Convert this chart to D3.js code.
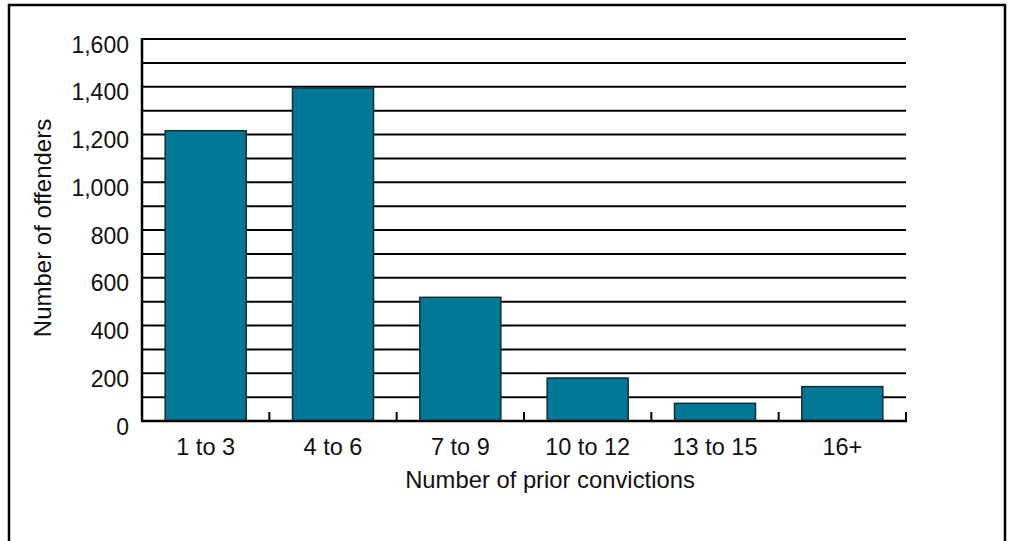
<!DOCTYPE html>
<html>
<head>
<meta charset="utf-8">
<script src="https://cdn.jsdelivr.net/npm/d3@7"></script>
<style>
  body { margin: 0; background: #fff; }
  text { font-family: "Liberation Sans", Arial, sans-serif; fill: #111; }
</style>
</head>
<body>
<script>
// data
const categories = ["1 to 3", "4 to 6", "7 to 9", "10 to 12", "13 to 15", "16+"];
const offenders = [1216, 1395, 518, 180, 74, 144];
const yTicks = [0, 200, 400, 600, 800, 1000, 1200, 1400, 1600];
const gridValues = d3.range(100, 1700, 100);

const width = 1010, height = 541;
const plotLeft = 142, plotRight = 906, plotTop = 39, plotBottom = 421;

const svg = d3.select("body").append("svg")
  .attr("width", width)
  .attr("height", height);

// outer frame (bottom edge runs off the picture)
svg.append("rect")
  .attr("x", 9).attr("y", 5)
  .attr("width", 996).attr("height", 560)
  .style("fill", "none")
  .style("stroke", "#000")
  .style("stroke-width", 2.5);

const x = d3.scaleBand()
  .domain(categories)
  .range([plotLeft, plotRight])
  .paddingInner(0.364)
  .paddingOuter(0.182);

const xEdges = d3.scaleBand().domain(categories).range([plotLeft, plotRight]);

const y = d3.scaleLinear().domain([0, 1600]).range([plotBottom, plotTop]);

// horizontal gridlines every 100
svg.append("g").selectAll("line")
  .data(gridValues)
  .join("line")
  .attr("x1", plotLeft).attr("x2", plotRight)
  .attr("y1", d => y(d)).attr("y2", d => y(d))
  .style("stroke", "#000")
  .style("stroke-width", 2);

// bars
svg.append("g").selectAll("rect")
  .data(offenders)
  .join("rect")
  .attr("x", (d, i) => x(categories[i]))
  .attr("y", d => y(d))
  .attr("width", x.bandwidth())
  .attr("height", d => y(0) - y(d))
  .style("fill", "#007896")
  .style("stroke", "#1b2a30")
  .style("stroke-width", 1.5);

// y axis line
svg.append("line")
  .attr("x1", plotLeft).attr("x2", plotLeft)
  .attr("y1", plotTop - 1).attr("y2", plotBottom)
  .style("stroke", "#000").style("stroke-width", 2.5);

// x axis line
svg.append("line")
  .attr("x1", plotLeft - 1).attr("x2", plotRight + 1)
  .attr("y1", plotBottom).attr("y2", plotBottom)
  .style("stroke", "#000").style("stroke-width", 2.5);

// category boundary ticks
svg.append("g").selectAll("line")
  .data(categories)
  .join("line")
  .attr("x1", d => xEdges(d) + xEdges.bandwidth())
  .attr("x2", d => xEdges(d) + xEdges.bandwidth())
  .attr("y1", plotBottom).attr("y2", plotBottom - 9)
  .style("stroke", "#000").style("stroke-width", 2);

// y tick labels
const fmt = d3.format(",");
svg.append("g").selectAll("text")
  .data(yTicks)
  .join("text")
  .attr("x", 129)
  .attr("y", d => y(d) + 13.5)
  .attr("text-anchor", "end")
  .style("font-size", "23px")
  .text(d => fmt(d));

// x tick labels
svg.append("g").selectAll("text")
  .data(categories)
  .join("text")
  .attr("x", d => x(d) + x.bandwidth() / 2)
  .attr("y", 455)
  .attr("text-anchor", "middle")
  .style("font-size", "23.5px")
  .text(d => d);

// axis titles
svg.append("text")
  .attr("x", 550).attr("y", 488)
  .attr("text-anchor", "middle")
  .style("font-size", "23.8px")
  .text("Number of prior convictions");

svg.append("text")
  .attr("transform", "translate(51,228) rotate(-90)")
  .attr("text-anchor", "middle")
  .style("font-size", "24px")
  .text("Number of offenders");
</script>
</body>
</html>
